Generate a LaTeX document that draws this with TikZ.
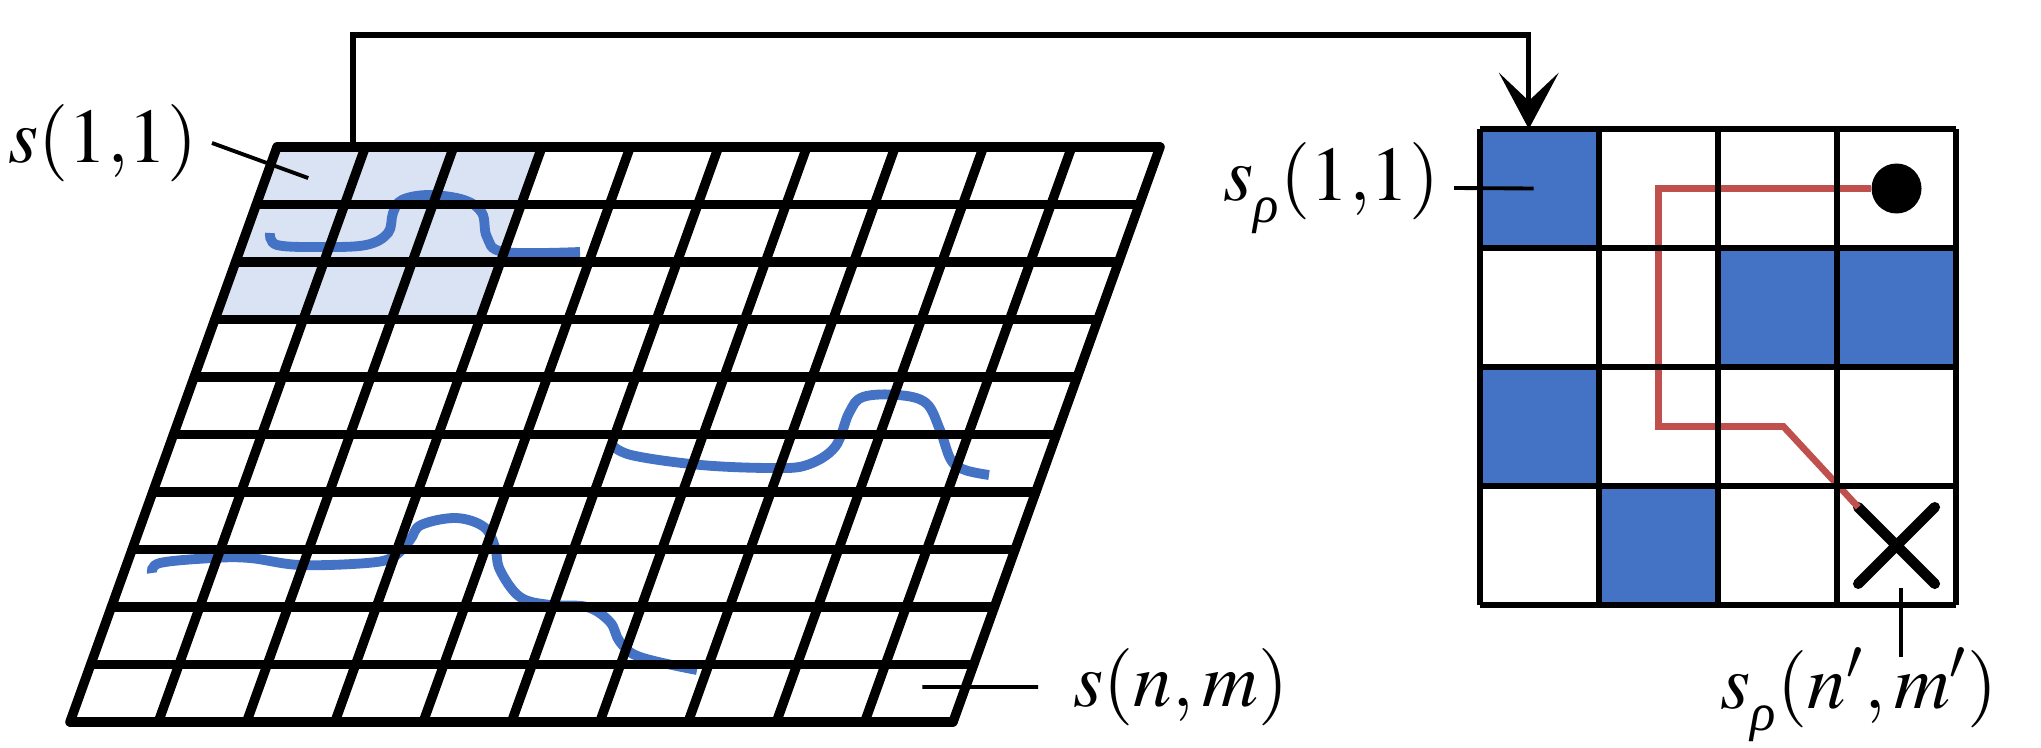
\documentclass[tikz,border=0pt]{standalone}
\usepackage{mathptmx}
\usepackage[no-math]{fontspec}
\newfontfamily\greekfont{Liberation Serif}
\newcommand{\rhosub}{\raisebox{-3pt}{\fontsize{15}{15}\selectfont\greekfont\itshape ρ}}
\usetikzlibrary{arrows.meta,shapes.misc}
\definecolor{cellblue}{HTML}{4472C4}
\definecolor{paleblue}{HTML}{DAE3F3}
\definecolor{routered}{HTML}{C0504D}

\begin{document}
\begin{tikzpicture}[
    gridline/.style={line width=2.7pt, line cap=round},
    cellline/.style={line width=1.6pt},
    trace/.style={cellblue, line width=2.8pt},
    route/.style={routered, line width=1.9pt},
    lab/.style={inner sep=4pt, font=\fontsize{22}{26}\selectfont},
    leader/.style={line width=1.1pt},
    flow/.style={line width=1.5pt, -{Stealth[length=16pt, width=17pt, inset=8pt]}},
  ]
  \useasboundingbox (0,0) rectangle (20.41,7.47);

  \begin{scope}[shift={(0.70,0.25)}, x={(0.883cm,0cm)}, y={(0.207cm,0.575cm)}]
    \fill[paleblue] (0,7) -- (3,7) -- (3,10) -- (0,10) -- cycle;
  \end{scope}

  \draw[trace] plot[smooth, tension=0.6] coordinates {(2.70,5.14) (2.77,5.02) (3.21,5.00) (3.66,5.02)
    (3.88,5.14) (3.93,5.34) (4.02,5.47) (4.29,5.52) (4.64,5.47) (4.82,5.34) (4.87,5.10) (5.04,4.95) (5.80,4.95)};
  \draw[trace] plot[smooth, tension=0.6] coordinates {(6.10,3.04) (6.31,2.92) (7.01,2.82) (7.72,2.79)
    (8.07,2.82) (8.35,3.00) (8.49,3.34) (8.63,3.50) (8.98,3.52) (9.26,3.44) (9.40,3.17) (9.51,2.87)
    (9.65,2.77) (9.89,2.72)};
  \draw[trace] plot[smooth, tension=0.6] coordinates {(1.52,1.74) (1.60,1.84) (2.13,1.89) (2.50,1.89)
    (3.00,1.82) (3.67,1.84) (3.93,1.90) (4.10,2.07) (4.21,2.22) (4.56,2.29) (4.84,2.20) (4.95,2.00)
    (5.00,1.77) (5.20,1.50) (5.50,1.42) (5.87,1.40) (6.10,1.25) (6.20,1.05) (6.40,0.90) (6.97,0.77)};

  \begin{scope}[shift={(0.70,0.25)}, x={(0.883cm,0cm)}, y={(0.207cm,0.575cm)}]
    \foreach \i in {0,...,10} {
      \draw[gridline] (0,\i) -- (10,\i);
      \draw[gridline] (\i,0) -- (\i,10);
    }
    \coordinate (src) at (0.86,10);
    \coordinate (c11) at (0.48,9.46);
    \coordinate (cnm) at (9.51,0.61);
  \end{scope}

  \begin{scope}[shift={(14.80,1.42)}, x={(1.19cm,0cm)}, y={(0cm,1.19cm)}]
    \foreach \c/\r in {0/3,2/2,3/2,0/1,1/0}
      \fill[cellblue] (\c,\r) rectangle ++(1,1);
    \node[circle, fill, inner sep=0pt, minimum size=0.5cm] (dot) at (3.5,3.5) {};
    \node[cross out, draw, line width=3pt, line cap=round, inner sep=0pt, minimum size=0.66cm] (xmark) at (3.5,0.5) {};
    \draw[route] (dot) -- (1.5,3.5) -- (1.5,1.5) -- (2.55,1.5) -- (xmark.north west);
    \foreach \i in {0,...,4} {
      \draw[cellline] (0,\i) -- (4,\i);
      \draw[cellline] (\i,0) -- (\i,4);
    }
    \coordinate (dst) at (0.41,4);
    \coordinate (cr11) at (0.45,3.5);
    \coordinate (xtail) at (3.54,0.14);
    \coordinate (xlab) at (3.54,-0.44);
  \end{scope}

  \draw[flow] (src) -- ++(0,1.12) -| (dst);

  \node[lab, anchor=east] (s11) at (2.12,6.04) {$s(1{,}1)$};
  \draw[leader] (s11.east) -- (c11);
  \node[lab, anchor=east] (sr11) at (14.54,5.59) {$s_{\rhosub}(1{,}1)$};
  \draw[leader] (sr11.east) -- (cr11);
  \node[lab, inner xsep=10pt, anchor=west] (snm) at (10.38,0.60) {$s(n,m)$};
  \draw[leader] (cnm) -- (snm.west);
  \node[lab, anchor=base] (srnm) at (18.59,0.39) {$s_{\rhosub}(n',m')$};
  \draw[leader] (xtail) -- (xlab);
\end{tikzpicture}
\end{document}
